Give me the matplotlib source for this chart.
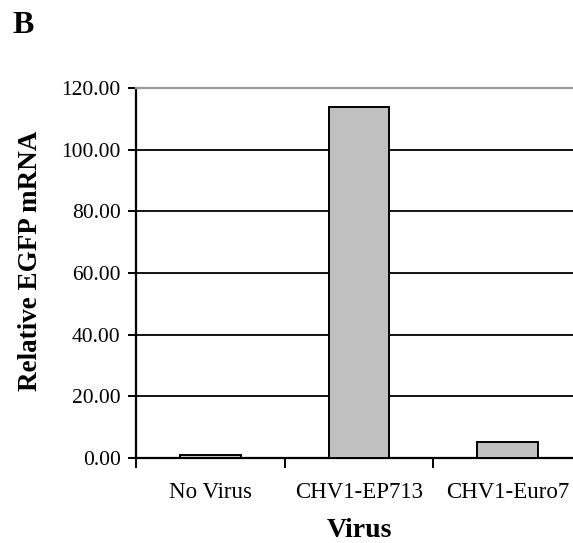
import numpy as np
import matplotlib.pyplot as plt

categories = ["No Virus", "CHV1-EP713", "CHV1-Euro7"]
values = [1.0, 114.0, 5.2]
y_ticks = [0, 20, 40, 60, 80, 100, 120]

plt.rcParams['font.family'] = ['Liberation Serif', 'DejaVu Serif']

fig = plt.figure(figsize=(5.73, 5.43), dpi=100)
ax = fig.add_axes([136 / 573, 85 / 543, (582 - 136) / 573, (458 - 88) / 543])

x = np.arange(len(categories))
ax.bar(x, values, width=0.41, color="#c0c0c0", edgecolor="black", linewidth=1.4, zorder=3)

ax.set_xlim(-0.5, len(categories) - 0.5)
ax.set_ylim(0, 120)

# gridlines (black) except the top border which is gray
for v in y_ticks[1:-1]:
    ax.axhline(v, color="black", linewidth=1.3, zorder=1)

ax.spines["top"].set_color("#999999")
ax.spines["top"].set_linewidth(1.6)
ax.spines["right"].set_visible(False)
ax.spines["left"].set_linewidth(1.6)
ax.spines["bottom"].set_linewidth(1.6)

ax.set_yticks(y_ticks)
ax.set_yticklabels([f"{v:.2f}" for v in y_ticks], fontsize=15.5)
ax.tick_params(axis="y", direction="out", length=6, width=1.4, pad=5)

ax.set_xticks(x)
ax.set_xticklabels(categories, fontsize=16.5)
ax.tick_params(axis="x", which="major", length=0, pad=17)
ax.set_xticks(np.arange(-0.5, len(categories)), minor=True)
ax.tick_params(axis="x", which="minor", direction="out", length=7, width=1.4)

ax.set_xlabel("Virus", fontsize=20, fontweight="bold")
ax.xaxis.set_label_coords(0.5, -0.163)
ax.set_ylabel("Relative EGFP mRNA", fontsize=19.5, fontweight="bold")
ax.yaxis.set_label_coords(-0.208, 0.532)

fig.text(12 / 573, 1 - 33 / 543, "B", fontsize=23, fontweight="bold", va="baseline")

fig.savefig("out.png", dpi=100)
